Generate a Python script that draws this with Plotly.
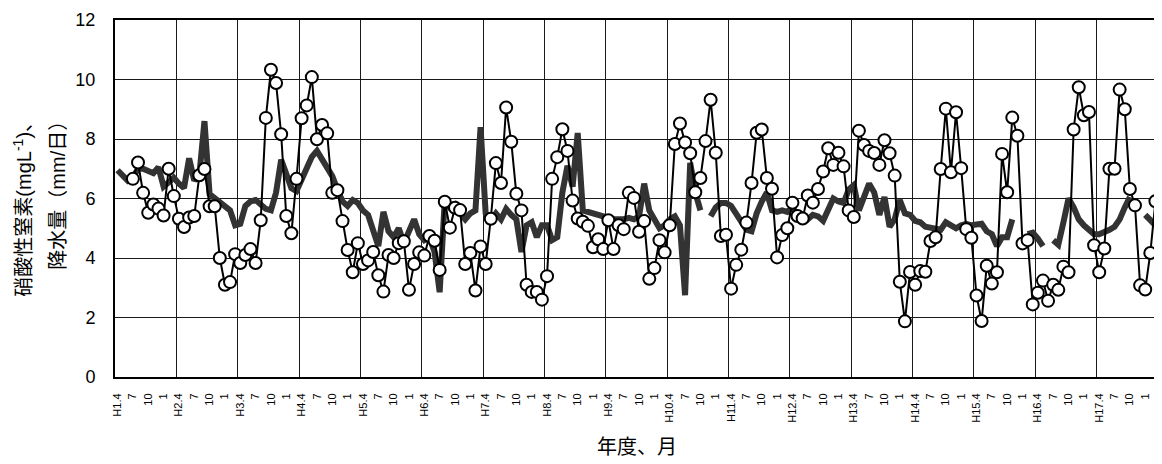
import plotly.graph_objects as go

# Month index 0 = H1.4 (April, fiscal year Heisei 1) ... 203 = H18.3
n_months = 204
first_year = 1
first_month = 4

# Nitrate-nitrogen concentration (mg/L), monthly; first 3 months not measured
nitrate = [None, None, None,
    6.66, 7.21, 6.19, 5.52, 5.80, 5.66, 5.43, 7.00, 6.08,
    5.32, 5.04, 5.36, 5.41, 6.78, 6.99, 5.74, 5.74, 4.00, 3.10, 3.19, 4.13,
    3.83, 4.10, 4.30, 3.83, 5.27, 8.71, 10.33, 9.88, 8.16, 5.41, 4.83, 6.66,
    8.70, 9.13, 10.08, 7.99, 8.47, 8.19, 6.19, 6.28, 5.24, 4.27, 3.52, 4.50,
    3.80, 3.92, 4.20, 3.42, 2.87, 4.10, 4.00, 4.50, 4.56, 2.93, 3.80, 4.19,
    4.08, 4.74, 4.58, 3.60, 5.89, 5.02, 5.69, 5.61, 3.80, 4.17, 2.91, 4.39,
    3.80, 5.32, 7.19, 6.52, 9.06, 7.91, 6.16, 5.60, 3.10, 2.86, 2.86, 2.60,
    3.39, 6.66, 7.39, 8.33, 7.60, 5.93, 5.33, 5.22, 5.08, 4.36, 4.63, 4.30,
    5.27, 4.30, 5.10, 4.97, 6.19, 6.02, 4.88, 5.24, 3.30, 3.66, 4.60, 4.19,
    5.10, 7.83, 8.52, 7.88, 7.52, 6.21, 6.69, 7.93, 9.32, 7.54, 4.74, 4.78,
    2.97, 3.77, 4.28, 5.19, 6.52, 8.21, 8.32, 6.69, 6.33, 4.02, 4.77, 5.00,
    5.86, 5.41, 5.33, 6.10, 5.86, 6.32, 6.91, 7.69, 7.13, 7.54, 7.08, 5.60,
    5.38, 8.28, 7.80, 7.60, 7.53, 7.13, 7.96, 7.52, 6.77, 3.20, 1.87, 3.53,
    3.10, 3.56, 3.54, 4.57, 4.70, 6.99, 9.02, 6.88, 8.90, 7.02, 4.97, 4.68,
    2.74, 1.88, 3.74, 3.14, 3.52, 7.50, 6.21, 8.72, 8.11, 4.49, 4.60, 2.44,
    2.83, 3.24, 2.56, 3.10, 2.93, 3.71, 3.52, 8.32, 9.74, 8.80, 8.91, 4.43,
    3.52, 4.32, 7.00, 7.00, 9.66, 9.00, 6.32, 5.77, 3.08, 2.94, 4.17, 5.91]

# Precipitation (mm/day), monthly; None = missing
precip = [
    6.95, 6.80, 6.60, 6.70, 7.00, 7.00, 6.95, 6.85, 7.05, 6.40, 6.55, 6.70,
    6.50, 6.35, 7.35, 6.60, 6.80, 8.60, 6.15, 6.00, 5.90, 5.75, 5.60, 5.10,
    5.15, 5.75, 5.90, 5.95, 5.80, 5.65, 5.60, 6.20, 7.30, 6.80, 6.35, 6.25,
    6.60, 7.00, 7.40, 7.60, 7.30, 7.00, 6.75, 6.30, 5.90, 5.75, 5.95, 5.85,
    5.60, 5.45, 4.90, 4.40, 5.55, 4.90, 4.70, 5.00, 4.50, 4.85, 5.30, 4.80,
    4.60, 4.70, 4.20, 2.85, 5.95, 5.70, 5.80, 5.50, 5.30, 5.50, 5.60, 8.40,
    5.50, 5.25, 5.50, 5.30, 5.65, 5.45, 5.30, 4.20, 5.10, 5.20, 4.70, 5.10,
    5.10, 4.60, 4.70, 6.20, 7.10, 6.40, 8.20, 5.60, 5.55, 5.55, 5.50, 5.40,
    5.30, 5.30, 5.25, 5.30, 5.35, 5.30, 5.40, 6.50, 5.60, 5.30, 5.00, 5.10,
    5.30, 5.40, 5.10, 2.75, 7.20, 6.20, 5.60, None, 5.40, 5.70, 5.85, 5.85,
    5.75, 5.50, 5.20, 4.95, 4.90, 5.50, 5.90, 6.20, 5.60, 5.55, 5.60, 5.55,
    5.70, 5.45, 5.40, 5.30, 5.45, 5.40, 5.25, 5.60, 6.00, 5.90, 5.85, 6.30,
    6.45, 5.60, 6.00, 6.50, 6.20, 5.45, 6.05, 5.05, 5.30, 5.95, 5.50, 5.45,
    5.25, 5.20, 5.05, 5.00, 4.95, 4.95, 5.20, 5.10, 5.00, 5.10, 5.15, 5.10,
    5.10, 5.15, 4.90, 4.80, 4.40, 4.70, 4.70, 5.30, None, None, 4.80, 4.85,
    4.65, 4.40, None, 4.60, 4.45, 5.20, 6.00, 5.70, 5.30, 5.10, 4.95, 4.80,
    4.80, 4.85, 4.95, 5.05, 5.30, 5.70, 6.05, None, None, 5.45, 5.25, 5.10]

y_ticks = [0, 2, 4, 6, 8, 10, 12]

# Month labels every 3 months: "H1.4", "7", "10", "1", "H2.4", ...
months = list(range(n_months))
tick_vals, tick_text = [], []
for i in months:
    if i % 3 == 0:
        m = (first_month - 1 + i) % 12 + 1
        if i % 12 == 0:
            tick_text.append(f"H{first_year + i // 12}.{m}")
        else:
            tick_text.append(str(m))
        tick_vals.append(i)

font_family = "Liberation Sans, Arial, Noto Sans CJK JP, sans-serif"

fig = go.Figure()
fig.add_trace(go.Scatter(
    x=months, y=precip, mode="lines",
    line=dict(color="#333333", width=6),
    connectgaps=False, showlegend=False, hoverinfo="skip"))
fig.add_trace(go.Scatter(
    x=months, y=nitrate, mode="lines+markers",
    line=dict(color="#000000", width=2),
    marker=dict(symbol="circle", size=12, color="#ffffff",
                line=dict(color="#000000", width=2)),
    connectgaps=False, showlegend=False))

# page body has an 8px margin, so the figure is drawn 8px smaller
fig.update_layout(
    width=1154, height=456,
    margin=dict(l=107, r=2, t=9, b=87),
    plot_bgcolor="#ffffff", paper_bgcolor="#ffffff",
    font=dict(family=font_family, color="#000000"),
)
fig.update_xaxes(
    range=[-0.5, n_months - 0.5],
    tickmode="array", tickvals=tick_vals, ticktext=tick_text,
    tickangle=-90, tickfont=dict(size=11),
    ticks="", ticklabelstandoff=10,
    showgrid=False, zeroline=False,
    minor=dict(tick0=-0.5, dtick=12, showgrid=True,
               gridcolor="#1a1a1a", gridwidth=1),
    showline=True, linecolor="#000000", linewidth=2, mirror=True,
)
fig.update_yaxes(
    range=[0, 12], tickmode="array", tickvals=y_ticks,
    tickfont=dict(size=18), ticks="", ticklabelstandoff=14,
    ticklabeloverflow="allow",
    showgrid=True, gridcolor="#1a1a1a", gridwidth=1, zeroline=False,
    showline=True, linecolor="#000000", linewidth=2, mirror=True,
)

fig.add_annotation(
    text="硝酸性窒素(mgL<sup>-1</sup>)、", textangle=-90,
    xref="paper", yref="paper", x=(22 - 115) / 1045, y=(377 - 203) / 360,
    xanchor="center", yanchor="middle", showarrow=False,
    font=dict(size=20, family=font_family))
fig.add_annotation(
    text="降水量（mm/日）", textangle=-90,
    xref="paper", yref="paper", x=(57 - 115) / 1045, y=(377 - 189) / 360,
    xanchor="center", yanchor="middle", showarrow=False,
    font=dict(size=20, family=font_family))
fig.add_annotation(
    text="年度、月", xref="paper", yref="paper",
    x=0.5, y=(377 - 448) / 360, xanchor="center", yanchor="middle",
    showarrow=False, font=dict(size=20, family=font_family))

fig.write_html("out.html")
